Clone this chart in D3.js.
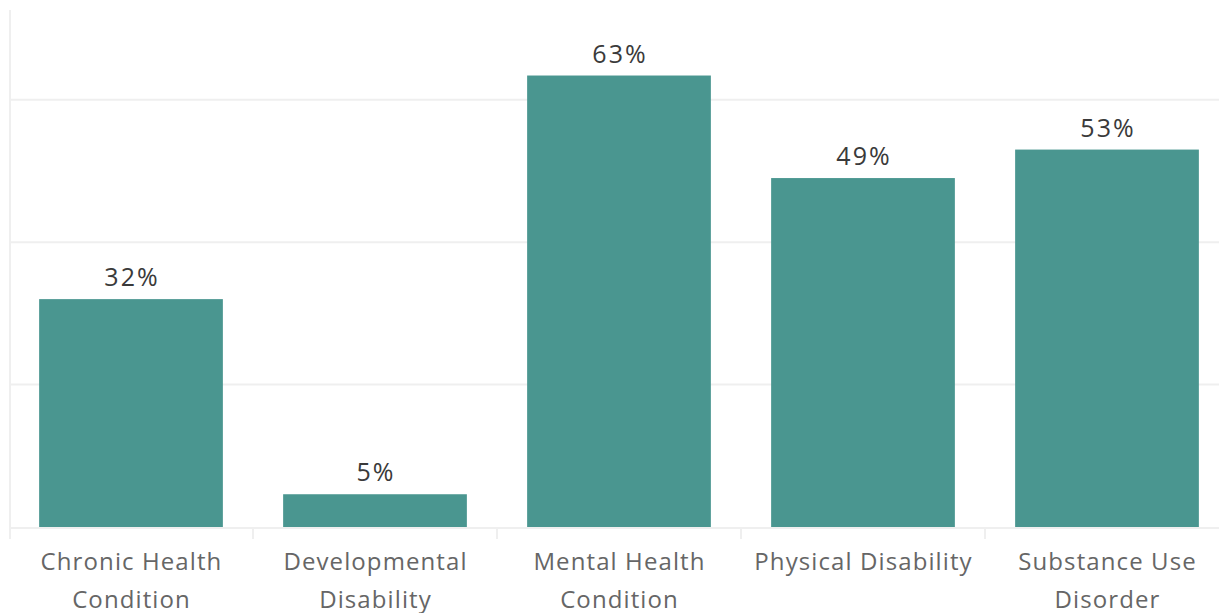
<!DOCTYPE html>
<html>
<head>
<meta charset="utf-8">
<script src="https://cdn.jsdelivr.net/npm/d3@7"></script>
<style>
  body { margin: 0; background: #fff; }
  svg { display: block; }
</style>
</head>
<body>
<div id="chart"></div>
<script>
// chart values
var categories = ["Chronic Health Condition", "Developmental Disability", "Mental Health Condition", "Physical Disability", "Substance Use Disorder"];
var percents = [32, 4.6, 63.4, 49, 53];
var gridTicks = [20, 40, 60];

var svgWidth = 1219;
var svgHeight = 613;

var svg = d3.select("#chart")
    .append("svg")
    .attr("width", svgWidth)
    .attr("height", svgHeight);

var xScale = d3.scaleBand()
    .domain(categories)
    .range([9, 1229])
    .paddingInner(0.247)
    .paddingOuter(0.1235);

var yScale = d3.scaleLinear()
    .domain([0, 72.6])
    .range([527, 10]);

var lineColor = "#efefef";

// gridlines
svg.append("g")
    .selectAll("line")
    .data(gridTicks)
    .enter()
    .append("line")
    .attr("x1", 10)
    .attr("x2", svgWidth)
    .attr("y1", d => yScale(d))
    .attr("y2", d => yScale(d))
    .attr("stroke", lineColor)
    .attr("stroke-width", 2);

// left axis line
svg.append("line")
    .attr("x1", 10).attr("x2", 10)
    .attr("y1", yScale.range()[1]).attr("y2", 539)
    .attr("stroke", lineColor)
    .attr("stroke-width", 2);

// bars
svg.append("g")
    .selectAll("rect")
    .data(categories)
    .enter()
    .append("rect")
    .attr("x", d => xScale(d))
    .attr("width", xScale.bandwidth())
    .attr("y", (d, i) => yScale(percents[i]))
    .attr("height", (d, i) => yScale(0) - yScale(percents[i]))
    .attr("fill", "#4a9690");

// baseline
svg.append("line")
    .attr("x1", 10).attr("x2", svgWidth)
    .attr("y1", yScale(0) + 1).attr("y2", yScale(0) + 1)
    .attr("stroke", lineColor)
    .attr("stroke-width", 2);

// category dividers
var step = xScale.step();
svg.append("g")
    .selectAll("line")
    .data(categories.slice(1))
    .enter()
    .append("line")
    .attr("x1", d => xScale(d) - xScale.paddingInner() * step / 2)
    .attr("x2", d => xScale(d) - xScale.paddingInner() * step / 2)
    .attr("y1", yScale(0))
    .attr("y2", 539)
    .attr("stroke", lineColor)
    .attr("stroke-width", 2);

// value labels
svg.append("g")
    .selectAll("text")
    .data(categories)
    .enter()
    .append("text")
    .attr("x", d => xScale(d) + xScale.bandwidth() / 2 + 1)
    .attr("y", (d, i) => yScale(percents[i]) - 13)
    .attr("text-anchor", "middle")
    .attr("font-family", "'Open Sans', sans-serif")
    .attr("font-size", 25)
    .attr("letter-spacing", 2)
    .attr("fill", "#3a3a3a")
    .text((d, i) => Math.round(percents[i]) + "%");

// category labels, wrapped to the band
var labels = svg.append("g")
    .selectAll("text")
    .data(categories)
    .enter()
    .append("text")
    .attr("text-anchor", "middle")
    .attr("font-family", "'Open Sans', sans-serif")
    .attr("font-size", 24)
    .attr("letter-spacing", 1.1)
    .attr("fill", "#666");

labels.each(function(d) {
    var text = d3.select(this);
    var cx = xScale(d) + xScale.bandwidth() / 2 + 0.5;
    var words = d.split(" ");
    var lines = [];
    var line = [];
    var probe = text.append("tspan");
    words.forEach(function(w) {
        line.push(w);
        probe.text(line.join(" "));
        if (probe.node().getComputedTextLength() > step - 6 && line.length > 1) {
            line.pop();
            lines.push(line.join(" "));
            line = [w];
        }
    });
    lines.push(line.join(" "));
    probe.remove();
    lines.forEach(function(l, k) {
        text.append("tspan")
            .attr("x", cx)
            .attr("y", 570 + k * 38)
            .text(l);
    });
});
</script>
</body>
</html>
